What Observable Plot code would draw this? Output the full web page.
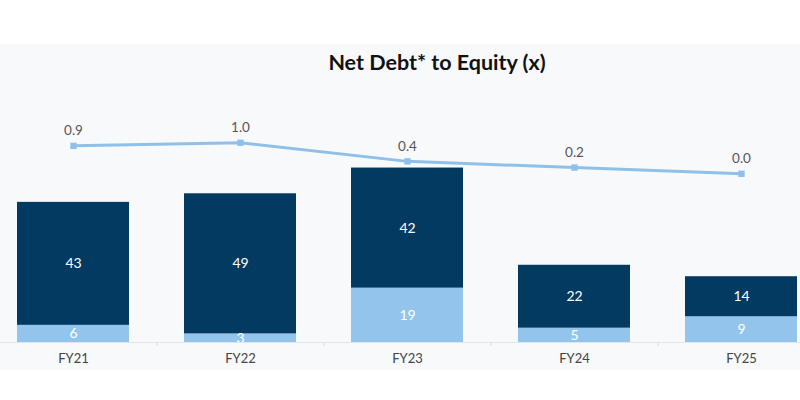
<!DOCTYPE html>
<html>
<head>
<meta charset="utf-8">
<script src="https://cdn.jsdelivr.net/npm/d3@7"></script>
<script src="https://cdn.jsdelivr.net/npm/@observablehq/plot@0.6"></script>
<style>
  html, body { margin: 0; padding: 0; background: #ffffff; width: 800px; height: 400px; overflow: hidden; }
  #top { height: 44px; background: #ffffff; }
  #panel { position: relative; height: 326px; background: #f8f9fb; }
  #title { position: absolute; left: 0; right: 0; top: 5px; text-align: center; padding-left: 74px;
           font-family: Lato, "Open Sans", sans-serif; font-weight: 700; font-size: 21.5px; color: #111; }
  #chart svg { display: block; background: transparent; }
</style>
</head>
<body>
<div id="top"></div>
<div id="panel">
  <div id="title">Net Debt* to Equity (x)</div>
  <div id="chart"></div>
</div>
<script>
const years = ["FY21", "FY22", "FY23", "FY24", "FY25"];
const cash = [6, 3, 19, 5, 9];          // light blue (bottom)
const netDebt = [43, 49, 42, 22, 14];   // navy (top)
const ratio = [0.9, 1.0, 0.4, 0.2, 0.0]; // line
const ratioLabels = ["0.9", "1.0", "0.4", "0.2", "0.0"];

const NAVY = "#033a62";
const LIGHT = "#93c4ec";
const LINE = "#8fc0e9";

const stack = [];
years.forEach((y, i) => {
  stack.push({year: y, part: "cash", value: cash[i]});
  stack.push({year: y, part: "debt", value: netDebt[i]});
});
// place the ratio line in the upper part of the bar scale (secondary axis mapping)
const lineBase = 59, lineScale = 10.84;
const lineData = years.map((y, i) => ({year: y, v: ratio[i], label: ratioLabels[i], yy: lineBase + lineScale * ratio[i]}));

const chart = Plot.plot({
  width: 800,
  height: 326,
  marginTop: 0,
  marginBottom: 28,
  marginLeft: 0,
  marginRight: 0,
  style: {background: "transparent", fontFamily: "Lato, 'Open Sans', sans-serif"},
  x: {domain: years, range: [-10.5, 824.5], paddingInner: 0.33, paddingOuter: 0.165, label: null},
  y: {domain: [0, 104.2], axis: null},
  color: {domain: ["cash", "debt"], range: [LIGHT, NAVY]},
  marks: [
    Plot.barY(stack, Plot.stackY({x: "year", y: "value", fill: "part", z: "part", order: ["cash", "debt"]})),
    Plot.text(stack, Plot.stackY({x: "year", y: "value", z: "part", order: ["cash", "debt"], text: d => String(d.value),
      fill: "white", fontSize: 14, clip: true})),
    Plot.ruleY([0], {stroke: "#e2e4e8", strokeWidth: 1}),
    Plot.axisX({tickSize: 0, tickPadding: 11, fontSize: 13, fill: "#444"}),
    Plot.axisX(years.slice(1), {tickSize: 4, stroke: "#d8dadf", tickFormat: () => "", dx: -83.5}),
    Plot.line(lineData, {x: "year", y: "yy", stroke: LINE, strokeWidth: 3}),
    Plot.dot(lineData, {x: "year", y: "yy", symbol: "square", r: 3.6, fill: LINE}),
    Plot.text(lineData, {x: "year", y: "yy", text: "label", dy: -15, fontSize: 13.5, fill: "#555"})
  ]
});
document.getElementById("chart").appendChild(chart);
</script>
</body>
</html>
